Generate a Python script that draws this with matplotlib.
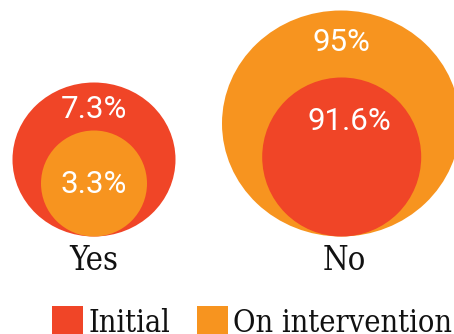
import matplotlib
matplotlib.use("Agg")
import matplotlib.pyplot as plt
from matplotlib.patches import Ellipse, Rectangle

# ---- data ----
groups = ["Yes", "No"]
series_names = ["Initial", "On intervention"]
initial = [7.3, 91.6]
intervention = [3.3, 95]
value_labels_initial = ["7.3%", "91.6%"]
value_labels_intervention = ["3.3%", "95%"]

# ---- style / layout (pixel coordinates) ----
colors = {"Initial": "#F04527", "On intervention": "#F7941F"}
group_cx = [94, 341]
bottom_y = 236.5
outer_size = [(163, 154), (238, 226)]   # (width, height) of larger circle
inner_size = [(106, 106), (159, 159)]   # (width, height) of smaller circle
inner_cx = [94, 341.7]
outer_label_dy = [26.5, 32]               # from top of outer circle to label centre
inner_label_dy = [54, 43.5]
inner_label_dx = [0, 7.5]
outer_label_dx = [0, 0.7]

num_font = "Roboto"
txt_font = "DejaVu Serif"

fig = plt.figure(figsize=(4.54, 3.34), dpi=100)
ax = fig.add_axes([0, 0, 1, 1])
ax.set_xlim(0, 454)
ax.set_ylim(334, 0)
ax.axis("off")

for i, g in enumerate(groups):
    vals = [(initial[i], "Initial", value_labels_initial[i]),
            (intervention[i], "On intervention", value_labels_intervention[i])]
    vals.sort(key=lambda t: -t[0])
    (ov, oname, olab), (iv, iname, ilab) = vals
    ow, oh = outer_size[i]
    iw, ih = inner_size[i]
    ocy = bottom_y - oh / 2
    icy = bottom_y - ih / 2
    ax.add_patch(Ellipse((group_cx[i], ocy), ow, oh, color=colors[oname], lw=0))
    ax.add_patch(Ellipse((inner_cx[i], icy), iw, ih, color=colors[iname], lw=0))
    ax.text(group_cx[i] + outer_label_dx[i], bottom_y - oh + outer_label_dy[i], olab,
            ha="center", va="center", color="white", fontsize=22.5, family=num_font)
    ax.text(inner_cx[i] + inner_label_dx[i], bottom_y - ih + inner_label_dy[i], ilab,
            ha="center", va="center", color="white", fontsize=22.5, family=num_font)
    ax.text(group_cx[i] + (3 if i == 1 else 0), 270, g, ha="center", va="baseline",
            color="#111111", fontsize=23.5, family=txt_font, fontstretch="condensed")

# legend
leg_x = [52, 197]
for j, name in enumerate(series_names):
    ax.add_patch(Rectangle((leg_x[j], 306), 30.5, 28, color=colors[name], lw=0))
    ax.text(leg_x[j] + 36, 332.5, name, ha="left", va="baseline",
            color="#111111", fontsize=22, family=txt_font, fontstretch="condensed")

fig.savefig("out.png", dpi=100)
